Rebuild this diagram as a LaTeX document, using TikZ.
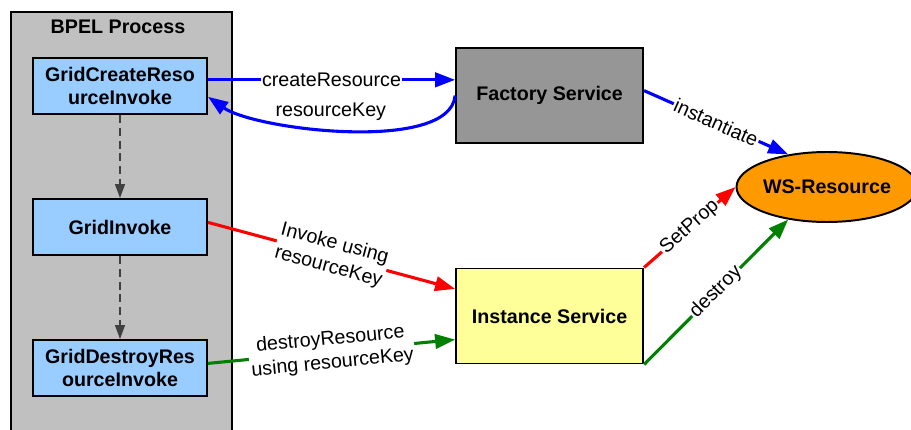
\documentclass[tikz,border=0pt]{standalone}
\usepackage{fontspec}
\setmainfont{Liberation Sans}
\usepackage{tikz}
\usetikzlibrary{arrows.meta,positioning,shapes.geometric}
\definecolor{myblue}{RGB}{0,0,255}
\definecolor{myred}{RGB}{255,0,0}
\definecolor{mygreen}{RGB}{0,128,0}
\definecolor{mysky}{RGB}{153,204,255}
\definecolor{myyellow}{RGB}{255,255,153}
\definecolor{myorange}{RGB}{255,153,0}
\definecolor{mygray}{RGB}{192,192,192}
\definecolor{mydark}{RGB}{150,150,150}

\begin{document}
\begin{tikzpicture}[font=\fontsize{14}{17}\selectfont,
  box/.style={draw=black,line width=1.4pt,align=center,
              font=\fontsize{14}{17}\selectfont\bfseries},
  invoke/.style={box,fill=mysky,minimum width=4.35cm,minimum height=1.4cm,inner sep=0pt},
  service/.style={box,minimum width=4.675cm,minimum height=2.375cm},
  msg/.style={line width=2.2pt,-{Triangle[length=5mm,width=3.6mm]}},
  lbl/.style={fill=white,text=black,inner sep=1pt,align=center,sloped}]

  \useasboundingbox (0,0) rectangle (22.775,-10.75);
  \clip (0,0) rectangle (22.775,-10.75);

  % process container, open at the bottom
  \node[draw,fill=mygray,line width=1.4pt,minimum width=5.525cm,minimum height=11cm,
        anchor=north west] (bpel) at (0.25,-0.275) {};
  \node[font=\fontsize{14}{17}\selectfont\bfseries] (title) at (2.95,-0.675) {BPEL Process};

  \node[invoke] (g0) at (3,-2.15) {GridCreateReso\\urceInvoke};
  \node[invoke] (g1) at (3,-5.675) {GridInvoke};
  \node[invoke] (g2) at (3,-9.2) {GridDestroyRes\\ourceInvoke};
  \foreach \i/\j in {0/1,1/2}
    \draw[black!75,line width=1pt,dash pattern=on 2mm off 1.2mm,
          -{Triangle[length=3.5mm,width=2.5mm]}] (g\i) -- (g\j);

  \node[service,fill=mydark] (fac) at (13.74,-2.39) {Factory Service};
  \node[service,fill=myyellow] (inst) at (13.74,-7.9) {Instance Service};
  \node[box,ellipse,fill=myorange,inner sep=0pt,minimum width=4.5cm,minimum height=1.75cm]
    (ws) at (20.675,-4.675) {WS-Resource};

  % factory round trip
  \draw[msg,myblue] (g0.4) -- node[lbl]{createResource} (g0.4 -| fac.west);
  \draw[msg,myblue] (fac.west) to[out=-95,in=-35,looseness=0.6]
    node[pos=0.55,above=4pt,inner sep=1pt,text=black]{resourceKey} (g0.-7);
  \draw[msg,myblue] (fac.3) -- node[lbl]{instantiate} (ws.140);

  % calls on the instance
  \draw[msg,myred] (g1.3) -- node[lbl]{Invoke using\\resourceKey} (inst.164);
  \draw[msg,mygreen] (g2.3) -- node[lbl]{destroyResource\\using resourceKey} (inst.194);
  \draw[msg,myred] (inst.north east) -- node[lbl]{SetProp} (ws.west);
  \draw[msg,mygreen] (inst.south east) -- node[lbl]{destroy} (ws.220);
\end{tikzpicture}
\end{document}
